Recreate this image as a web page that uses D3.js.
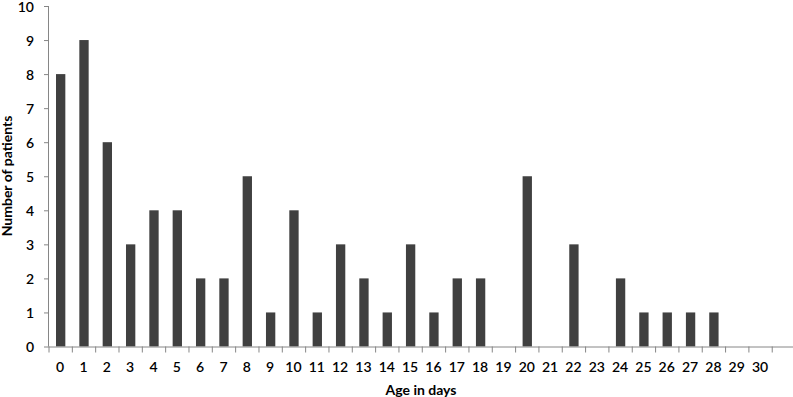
<!DOCTYPE html>
<html><head><meta charset="utf-8">
<script src="https://cdn.jsdelivr.net/npm/d3@7"></script>
<style>body{margin:0;background:#fff}svg{display:block}text{font-family:Lato,"Open Sans",sans-serif;fill:#000}</style>
</head><body>
<svg id="c" width="793" height="397"></svg>
<script>
const ages = d3.range(0, 31).map(String);
const patients = [8,9,6,3,4,4,2,2,5,1,4,1,3,2,1,3,1,2,2,0,5,0,3,0,2,1,1,1,1,0,0];
const yTicks = [0,1,2,3,4,5,6,7,8,9,10];

const svg = d3.select("#c");
const left = 49, step = 23.33;
const domain = ages.concat(["_31"]);
const x = d3.scaleBand().domain(domain).range([left, left + step * domain.length]).paddingInner(0).paddingOuter(0);
const y = d3.scaleLinear().domain([0, 10]).range([346.5, 6]);
const axisColor = "#868686";
const barW = step * 0.4;

svg.append("g").selectAll("rect").data(ages).join("rect")
  .attr("x", d => x(d) + (x.bandwidth() - barW) / 2)
  .attr("y", (d, i) => y(patients[i]))
  .attr("width", barW)
  .attr("height", (d, i) => y(0) - y(patients[i]))
  .attr("fill", "#404040");

// y axis
const ya = svg.append("g").attr("transform", `translate(${left},0)`)
  .call(d3.axisLeft(y).tickValues(yTicks).tickSize(5).tickPadding(10).tickFormat(d3.format("d")));
ya.select(".domain").attr("stroke", axisColor).attr("d", `M-0.5,${y(10)}V${y(0)}`);
ya.selectAll(".tick line").attr("stroke", axisColor);
ya.selectAll("text").attr("font-size", 14).attr("font-weight", 600).attr("dy", "0.36em");

// x axis
const xa = svg.append("g").attr("transform", `translate(0,${y(0)})`);
xa.append("line").attr("x1", left).attr("x2", 793).attr("y1", 0.5).attr("y2", 0.5).attr("stroke", axisColor);
xa.selectAll("line.t").data(domain.concat(["end"])).join("line").attr("class", "t")
  .attr("x1", (d, i) => left + i * step).attr("x2", (d, i) => left + i * step)
  .attr("y1", 0).attr("y2", 6).attr("stroke", axisColor);
xa.selectAll("text").data(ages).join("text")
  .attr("x", d => x(d) + x.bandwidth() / 2 - 0.5)
  .attr("y", 25).attr("text-anchor", "middle")
  .attr("font-size", 14).attr("font-weight", 600).text(d => d);

svg.append("text").attr("x", 421).attr("y", 395).attr("text-anchor", "middle")
  .attr("font-size", 14).attr("font-weight", 700).text("Age in days");
svg.append("text").attr("transform", `translate(12,176) rotate(-90)`).attr("text-anchor", "middle")
  .attr("font-size", 14).attr("font-weight", 700).text("Number of patients");
</script>
</body></html>
